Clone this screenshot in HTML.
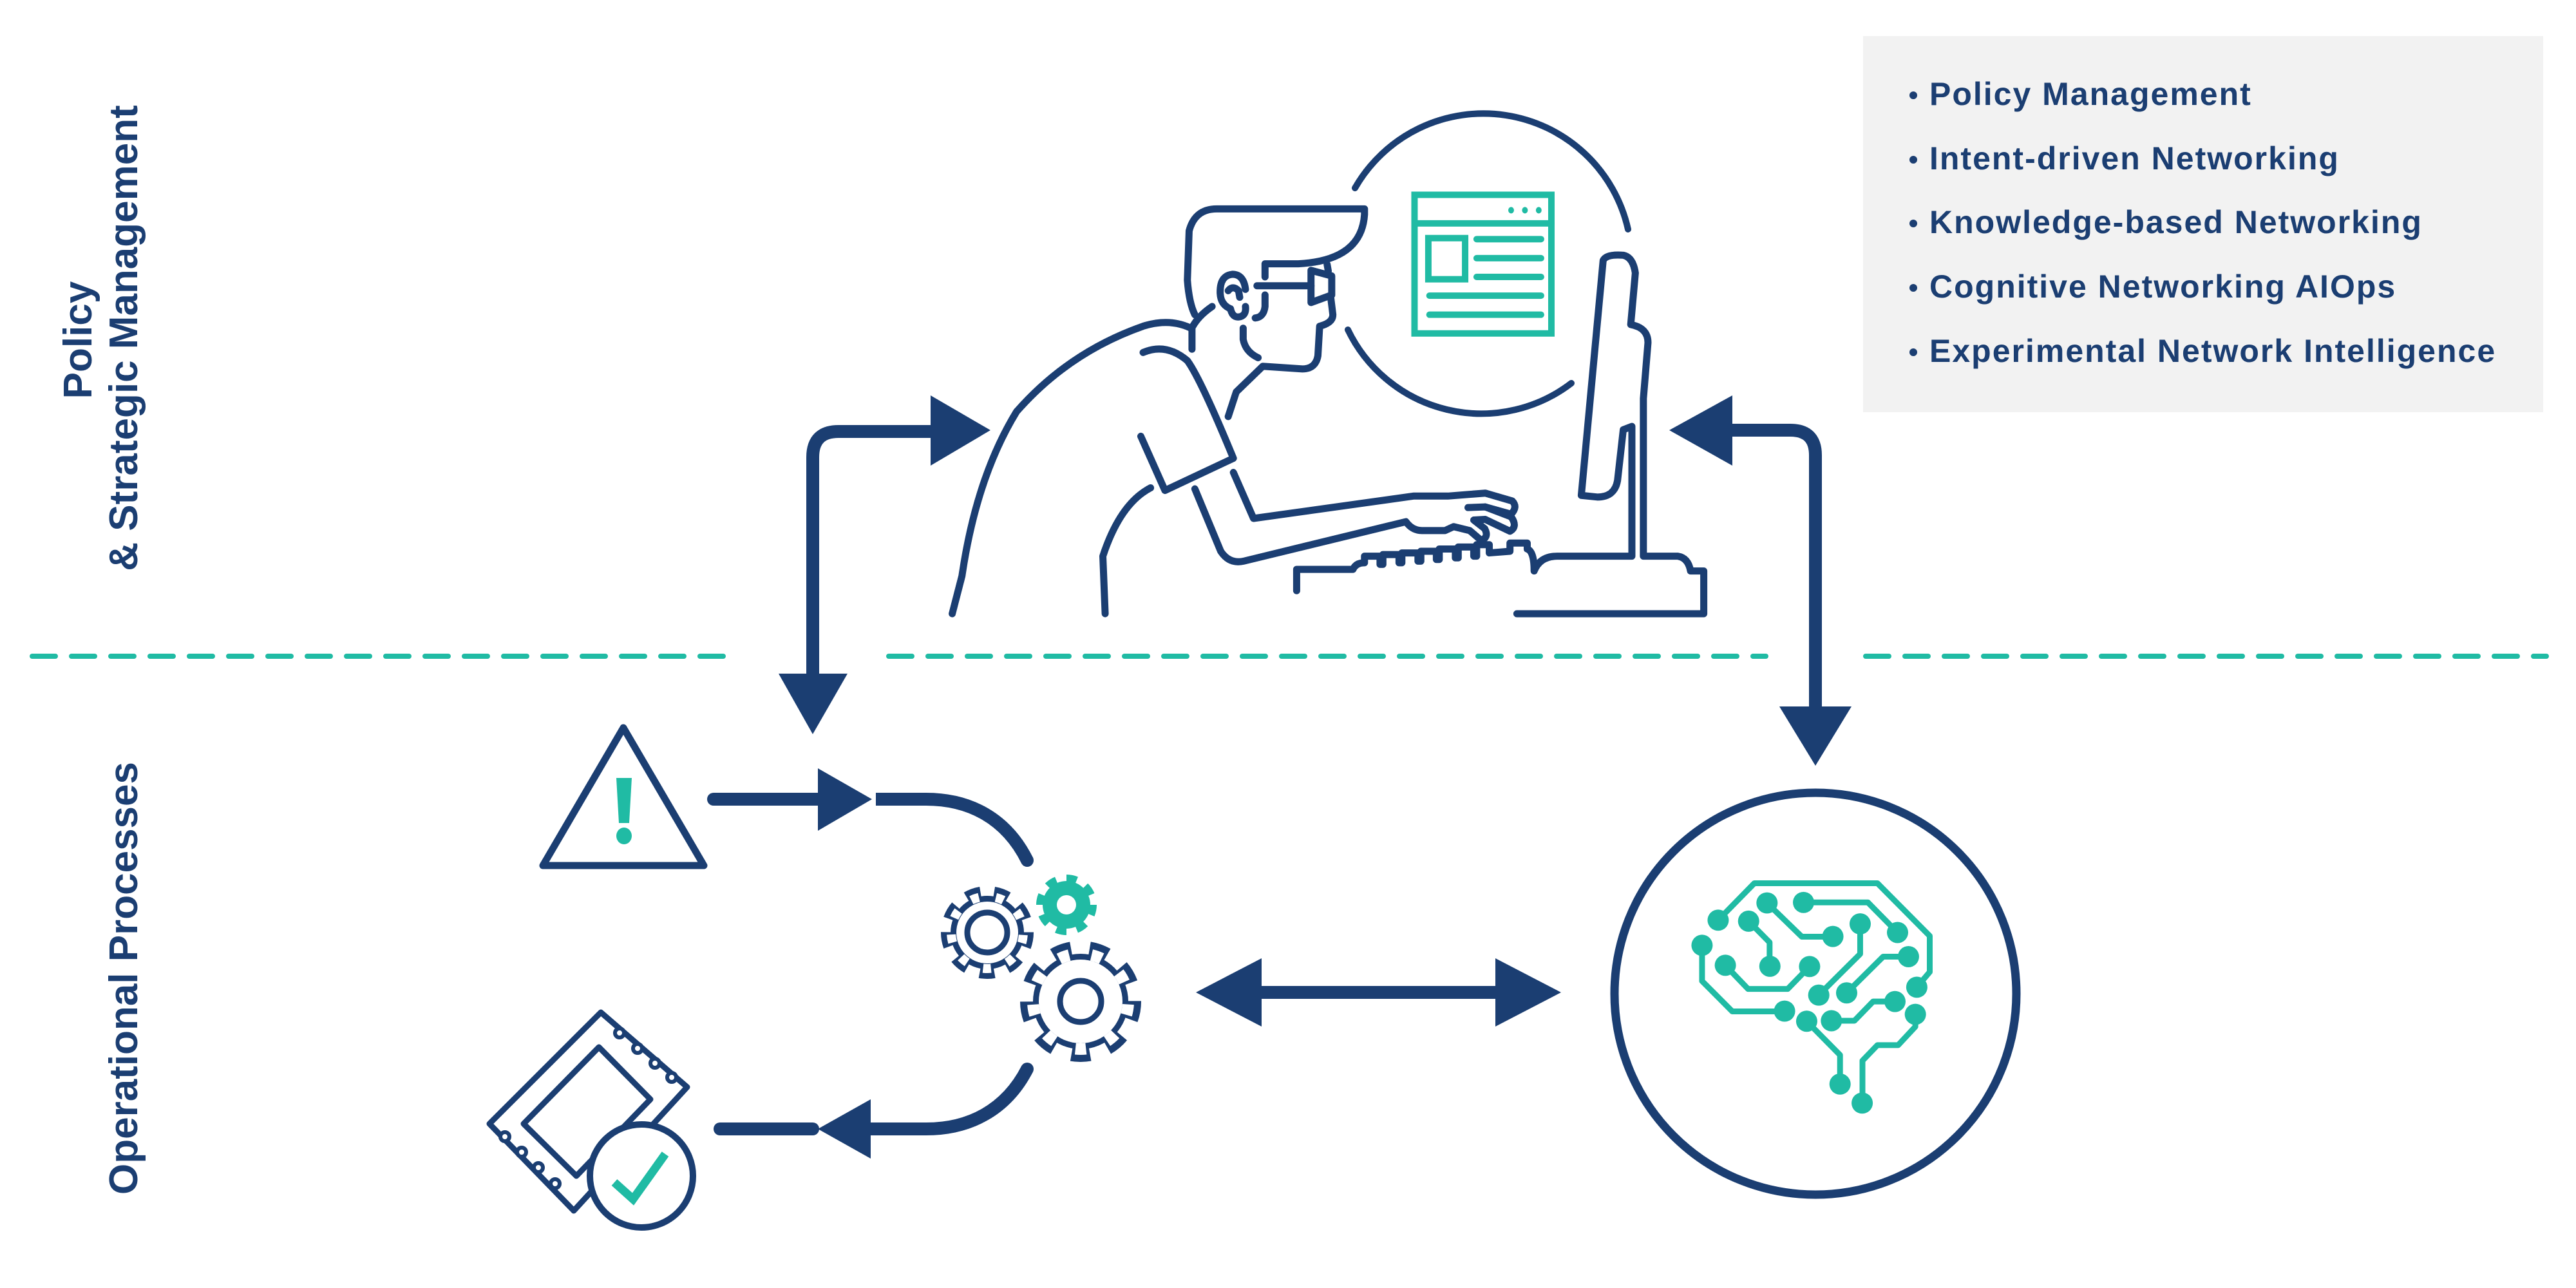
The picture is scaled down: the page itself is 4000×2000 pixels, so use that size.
<!DOCTYPE html>
<html><head><meta charset="utf-8"><style>
html,body{margin:0;padding:0;background:#fff;}
svg{display:block;}
</style></head><body>
<svg width="4000" height="2000" viewBox="0 0 4000 2000" xmlns="http://www.w3.org/2000/svg">
<rect width="4000" height="2000" fill="#fff"/>

<!-- text box -->
<rect x="2893" y="56" width="1056" height="584" fill="#f2f2f2"/>
<g font-family="'Liberation Sans', sans-serif" font-weight="bold" font-size="50" fill="#1b3e72" letter-spacing="2">
  <circle cx="2971" cy="148" r="6" fill="#1b3e72"/><text x="2996" y="163">Policy Management</text>
  <circle cx="2971" cy="248" r="6" fill="#1b3e72"/><text x="2996" y="263">Intent-driven Networking</text>
  <circle cx="2971" cy="347" r="6" fill="#1b3e72"/><text x="2996" y="362">Knowledge-based Networking</text>
  <circle cx="2971" cy="447" r="6" fill="#1b3e72"/><text x="2996" y="462">Cognitive Networking AIOps</text>
  <circle cx="2971" cy="547" r="6" fill="#1b3e72"/><text x="2996" y="562">Experimental Network Intelligence</text>
</g>

<!-- side labels -->
<g font-family="'Liberation Sans', sans-serif" font-weight="bold" font-size="62" fill="#1b3e72" text-anchor="middle">
  <text transform="translate(142,528) rotate(-90)">Policy</text>
  <text transform="translate(213,525) rotate(-90)">&amp; Strategic Management</text>
  <text transform="translate(213,1519) rotate(-90)">Operational Processes</text>
</g>

<!-- dashed line -->
<g stroke="#20bba4" stroke-width="8" stroke-linecap="round" stroke-dasharray="36 25">
  <line x1="50" y1="1019" x2="1148" y2="1019"/>
  <line x1="1380" y1="1019" x2="2742" y2="1019"/>
  <line x1="2897" y1="1019" x2="3954" y2="1019"/>
</g>

<!-- big connector arrows -->
<g fill="none" stroke="#1b3e72" stroke-width="20">
  <path d="M1262 1050 L1262 710 Q1262 670 1302 670 L1450 670"/>
  <path d="M2685 668 L2780 668 Q2819 668 2819 707 L2819 1100"/>
  <line x1="1950" y1="1541" x2="2330" y2="1541"/>
</g>
<g fill="#1b3e72">
  <polygon points="1445,614 1538,668 1445,723"/>
  <polygon points="1209,1046 1316,1046 1262,1140"/>
  <polygon points="2690,614 2592,668 2690,723"/>
  <polygon points="2763,1097 2875,1097 2819,1189"/>
  <polygon points="1959,1488 1857,1541 1959,1594"/>
  <polygon points="2322,1488 2424,1541 2322,1594"/>
</g>

<!-- small loop arrows -->
<g fill="none" stroke="#1b3e72" stroke-width="20" stroke-linecap="round">
  <line x1="1108" y1="1241" x2="1275" y2="1241"/>
  <path d="M1360 1241 L1438 1241 C1505 1241 1562 1270 1595 1336" stroke-linecap="butt"/>
  <path d="M1595 1660 C1562 1724 1505 1753 1438 1753 L1345 1753" stroke-linecap="butt"/>
  <line x1="1118" y1="1753" x2="1262" y2="1753"/>
</g>
<path d="M1595 1336 L1595 1336" stroke="#1b3e72" stroke-width="20" stroke-linecap="round"/>
<path d="M1595 1660 L1595 1660" stroke="#1b3e72" stroke-width="20" stroke-linecap="round"/>
<g fill="#1b3e72">
  <polygon points="1270,1193 1354,1241 1270,1290"/>
  <polygon points="1352,1707 1270,1753 1352,1799"/>
</g>

<!-- warning triangle -->
<path d="M968 1130 L1093 1344 L843 1344 Z" fill="none" stroke="#1b3e72" stroke-width="11" stroke-linejoin="round"/>
<path d="M957 1208 L981 1208 L977 1278 L961 1278 Z" fill="#20bba4"/>
<ellipse cx="969" cy="1298" rx="12" ry="13" fill="#20bba4"/>

<!-- left gear -->
<g>
  <circle cx="1533" cy="1448" r="57" fill="#1b3e72"/>
  <circle cx="1533" cy="1448" r="63" fill="none" stroke="#1b3e72" stroke-width="18" pathLength="90" stroke-dasharray="5.2 4.8"/>
  <circle cx="1533" cy="1448" r="48" fill="#fff"/>
  <circle cx="1533" cy="1448" r="56" fill="none" stroke="#fff" stroke-width="14" pathLength="90" stroke-dasharray="3.2 6.8" stroke-dashoffset="-1"/>
  <circle cx="1533" cy="1448" r="31" fill="none" stroke="#1b3e72" stroke-width="9"/>
</g>
<!-- big gear -->
<g>
  <circle cx="1678" cy="1555" r="74" fill="#1b3e72"/>
  <circle cx="1678" cy="1555" r="83" fill="none" stroke="#1b3e72" stroke-width="22" pathLength="90" stroke-dasharray="5 5"/>
  <circle cx="1678" cy="1555" r="65" fill="#fff"/>
  <circle cx="1678" cy="1555" r="74" fill="none" stroke="#fff" stroke-width="18" pathLength="90" stroke-dasharray="3.2 6.8" stroke-dashoffset="-0.9"/>
  <circle cx="1678" cy="1555" r="32" fill="none" stroke="#1b3e72" stroke-width="9"/>
</g>
<!-- teal gear -->
<g>
  <circle cx="1656" cy="1405" r="37" fill="#20bba4"/>
  <circle cx="1656" cy="1405" r="41" fill="none" stroke="#20bba4" stroke-width="12" pathLength="80" stroke-dasharray="5 5"/>
  <circle cx="1656" cy="1405" r="15" fill="#fff"/>
</g>

<!-- ticket / document -->
<g fill="none" stroke="#1b3e72" stroke-width="9" stroke-linejoin="round">
  <polygon points="933,1572 1067,1688 891,1880 760,1745" fill="#fff"/>
  <polygon points="930,1626 1010,1707 895,1826 813,1745"/>
</g>
<g fill="#fff" stroke="#1b3e72" stroke-width="6">
  <circle cx="962" cy="1604" r="7"/>
  <circle cx="990" cy="1628" r="7"/>
  <circle cx="1017" cy="1651" r="7"/>
  <circle cx="1043" cy="1673" r="7"/>
  <circle cx="784" cy="1765" r="7"/>
  <circle cx="810" cy="1789" r="7"/>
  <circle cx="836" cy="1813" r="7"/>
  <circle cx="862" cy="1838" r="7"/>
</g>
<circle cx="996" cy="1826" r="80" fill="#fff" stroke="#1b3e72" stroke-width="10"/>
<polyline points="954,1836 983,1862 1033,1792" fill="none" stroke="#20bba4" stroke-width="13" stroke-linejoin="miter"/>

<!-- brain circle -->
<circle cx="2819" cy="1543" r="312" fill="none" stroke="#1b3e72" stroke-width="13"/>
<g transform="translate(2480,1200) scale(0.4464,0.3827)">
  <g fill="none" stroke="#20bba4" stroke-width="9" stroke-linejoin="round">
    <path vector-effect="non-scaling-stroke" d="M365 700 L365 845 L470 968 L652 968"/>
    <path vector-effect="non-scaling-stroke" d="M421 598 L547 448 L975 448 L1157 662 L1157 808 L1112 870"/>
    <path vector-effect="non-scaling-stroke" d="M591 528 L712 665 L820 665"/>
    <path vector-effect="non-scaling-stroke" d="M718 526 L942 526 L1045 648"/>
    <path vector-effect="non-scaling-stroke" d="M527 602 L600 688 L600 785"/>
    <path vector-effect="non-scaling-stroke" d="M446 781 L525 877 L663 877 L738 787"/>
    <path vector-effect="non-scaling-stroke" d="M915 613 L915 735 L771 902"/>
    <path vector-effect="non-scaling-stroke" d="M1083 746 L995 746 L868 893"/>
    <path vector-effect="non-scaling-stroke" d="M1036 928 L960 928 L895 1006 L815 1006"/>
    <path vector-effect="non-scaling-stroke" d="M729 1008 L845 1145 L845 1262"/>
    <path vector-effect="non-scaling-stroke" d="M1107 980 L1107 1030 L1047 1105 L975 1105 L923 1168 L923 1340"/>
  </g>
  <g fill="#20bba4">
    <ellipse cx="421" cy="598" rx="37" ry="43"/><ellipse cx="365" cy="700" rx="37" ry="43"/>
    <ellipse cx="591" cy="528" rx="37" ry="43"/><ellipse cx="718" cy="526" rx="37" ry="43"/>
    <ellipse cx="527" cy="602" rx="37" ry="43"/><ellipse cx="820" cy="664" rx="37" ry="43"/>
    <ellipse cx="915" cy="613" rx="37" ry="43"/><ellipse cx="1045" cy="648" rx="37" ry="43"/>
    <ellipse cx="446" cy="781" rx="37" ry="43"/><ellipse cx="601" cy="785" rx="37" ry="43"/>
    <ellipse cx="739" cy="786" rx="37" ry="43"/><ellipse cx="1083" cy="746" rx="37" ry="43"/>
    <ellipse cx="771" cy="902" rx="37" ry="43"/><ellipse cx="868" cy="893" rx="37" ry="43"/>
    <ellipse cx="1112" cy="870" rx="37" ry="43"/><ellipse cx="652" cy="967" rx="37" ry="43"/>
    <ellipse cx="729" cy="1008" rx="37" ry="43"/><ellipse cx="815" cy="1006" rx="37" ry="43"/>
    <ellipse cx="1036" cy="928" rx="37" ry="43"/><ellipse cx="1107" cy="980" rx="37" ry="43"/>
    <ellipse cx="845" cy="1263" rx="37" ry="43"/><ellipse cx="922" cy="1340" rx="37" ry="43"/>
  </g>
</g>

<!-- thought circle arcs -->
<g fill="none" stroke="#1b3e72" stroke-width="10" stroke-linecap="round">
  <path d="M2104 292 A230 230 0 0 1 2528 356"/>
  <path d="M2093 512 A230 230 0 0 0 2440 595"/>
</g>

<!-- person + monitor -->
<g transform="translate(1400,180) scale(0.8929,0.5102)" fill="none" stroke="#1b3e72" stroke-linecap="round" stroke-linejoin="round">
  <g stroke-width="11">
    <path vector-effect="non-scaling-stroke" d="M510 605 Q500 570 497 500 L500 350 Q510 283 548 283 L805 283 L805 300 Q800 440 690 450 L632 450 L632 490"/>
    <path vector-effect="non-scaling-stroke" d="M540 580 Q515 610 505 645 L505 710"/>
    <path vector-effect="non-scaling-stroke" d="M618 517 L712 517"/>
    <path vector-effect="non-scaling-stroke" d="M712 470 L748 487 L748 545 L712 568 Z"/>
    <path vector-effect="non-scaling-stroke" d="M740 452 L742 472"/>
    <path vector-effect="non-scaling-stroke" d="M746 548 L750 605 Q750 630 727 640 L724 730 Q720 770 697 770 L628 762 L582 840 L568 915"/>
    <path vector-effect="non-scaling-stroke" d="M632 545 L632 580 Q630 612 615 615"/>
    <path vector-effect="non-scaling-stroke" d="M598 528 Q595 482 575 482 Q553 486 554 540 Q555 575 572 587 Q575 612 585 612 Q600 610 598 580"/>
    <path vector-effect="non-scaling-stroke" d="M568 532 Q576 514 586 532 L588 552"/>
    <path vector-effect="non-scaling-stroke" d="M594 646 L594 680 Q598 718 620 736"/>
    <path vector-effect="non-scaling-stroke" d="M88 1515 L105 1400 Q130 1100 200 900 Q290 720 420 640 Q465 615 502 645"/>
    <path vector-effect="non-scaling-stroke" d="M420 720 Q460 690 497 745 Q520 800 577 1042 L458 1140 L416 975"/>
    <path vector-effect="non-scaling-stroke" d="M433 1132 Q380 1180 350 1340 L354 1515"/>
    <path vector-effect="non-scaling-stroke" d="M577 1085 L612 1225 L890 1157 L950 1157 L1015 1148 L1062 1172 Q1072 1190 1060 1212 L1015 1190 L985 1192"/>
    <path vector-effect="non-scaling-stroke" d="M510 1135 L555 1325 Q570 1365 595 1355 L877 1235 Q888 1262 905 1262 L945 1262 L960 1250 L988 1262 L1008 1292 Q1022 1282 1014 1256 L995 1230 L1015 1228 L1058 1264 Q1072 1250 1060 1220 L1015 1190"/>
    <path vector-effect="non-scaling-stroke" d="M687 1445 L687 1380 L785 1380 Q790 1360 805 1360 L805 1340 L832 1340 L832 1365 L837 1365 L837 1335 L865 1335 L865 1360 L870 1360 L870 1330 L898 1330 L898 1355 L903 1355 L903 1325 L930 1325 L930 1350 L935 1350 L935 1318 L963 1318 L963 1345 L968 1345 L968 1312 L995 1312 L995 1340 L1000 1340 L1000 1305 L1022 1305 L1022 1330 L1058 1325 L1058 1300 L1088 1300 L1088 1318 Q1100 1325 1100 1385 Q1110 1340 1140 1340 L1270 1340 L1270 945 L1255 955 L1245 1110 Q1240 1160 1210 1160 L1182 1155 L1220 440 Q1225 420 1255 424 Q1272 430 1276 478 L1268 635 Q1298 645 1298 690 L1290 860 L1290 1340 L1350 1340 Q1368 1345 1372 1385 L1395 1385 L1395 1515 L1070 1515"/>
  </g>
  <g stroke="#20bba4" stroke-width="10" stroke-linecap="round">
    <rect vector-effect="non-scaling-stroke" x="892" y="240" width="238" height="422" stroke-linejoin="miter"/>
    <line vector-effect="non-scaling-stroke" x1="892" y1="327" x2="1130" y2="327"/>
    <rect vector-effect="non-scaling-stroke" x="916" y="372" width="64" height="125" stroke-linejoin="miter"/>
    <line vector-effect="non-scaling-stroke" x1="1000" y1="375" x2="1112" y2="375"/>
    <line vector-effect="non-scaling-stroke" x1="1000" y1="433" x2="1112" y2="433"/>
    <line vector-effect="non-scaling-stroke" x1="1000" y1="490" x2="1112" y2="490"/>
    <line vector-effect="non-scaling-stroke" x1="918" y1="547" x2="1112" y2="547"/>
    <line vector-effect="non-scaling-stroke" x1="918" y1="605" x2="1112" y2="605"/>
  </g>
  <g fill="#20bba4" stroke="none">
    <ellipse cx="1060" cy="287" rx="5" ry="10"/>
    <ellipse cx="1084" cy="287" rx="5" ry="10"/>
    <ellipse cx="1108" cy="287" rx="5" ry="10"/>
  </g>
</g>
</svg>
</body></html>
